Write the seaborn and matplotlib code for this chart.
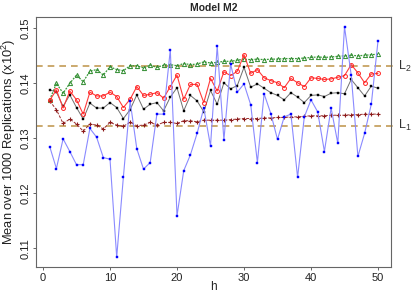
import matplotlib
matplotlib.use("Agg")
import matplotlib.pyplot as plt
import matplotlib.transforms as mtransforms
import seaborn as sns

# lag h
h = list(range(1, 51))

# mean over 1000 replications, one list per estimator
est_blue = [0.1285, 0.1245, 0.1299, 0.1276, 0.1252, 0.1252, 0.1318, 0.1302, 0.1265, 0.1262,
            0.1084, 0.1230, 0.1368, 0.1281, 0.1244, 0.1256, 0.1344, 0.1344, 0.1461, 0.1159,
            0.1241, 0.1270, 0.1309, 0.1355, 0.1286, 0.1468, 0.1297, 0.1435, 0.1384, 0.1399,
            0.1361, 0.1256, 0.1381, 0.1345, 0.1298, 0.1339, 0.1344, 0.1229, 0.1339, 0.1370,
            0.1348, 0.1276, 0.1355, 0.1291, 0.1503, 0.1415, 0.1267, 0.1309, 0.1362, 0.1477]
est_black = [0.1388, 0.1384, 0.1358, 0.1379, 0.1356, 0.1335, 0.1364, 0.1355, 0.1355, 0.1365,
             0.1356, 0.1336, 0.1352, 0.1379, 0.1353, 0.1362, 0.1365, 0.1350, 0.1375, 0.1392,
             0.1350, 0.1378, 0.1368, 0.1348, 0.1387, 0.1362, 0.1401, 0.1390, 0.1396, 0.1429,
             0.1393, 0.1399, 0.1391, 0.1383, 0.1378, 0.1370, 0.1383, 0.1375, 0.1365, 0.1378,
             0.1379, 0.1376, 0.1382, 0.1383, 0.1381, 0.1407, 0.1392, 0.1377, 0.1395, 0.1391]
est_red = [0.1369, 0.1388, 0.1355, 0.1386, 0.1370, 0.1344, 0.1384, 0.1377, 0.1377, 0.1384,
           0.1376, 0.1356, 0.1371, 0.1394, 0.1378, 0.1380, 0.1383, 0.1373, 0.1394, 0.1415,
           0.1371, 0.1398, 0.1398, 0.1365, 0.1409, 0.1386, 0.1421, 0.1414, 0.1422, 0.1452,
           0.1418, 0.1425, 0.1410, 0.1405, 0.1401, 0.1392, 0.1409, 0.1401, 0.1394, 0.1410,
           0.1409, 0.1407, 0.1408, 0.1411, 0.1414, 0.1434, 0.1419, 0.1401, 0.1417, 0.1418]
est_green = [0.1370, 0.1400, 0.1382, 0.1400, 0.1415, 0.1403, 0.1422, 0.1425, 0.1415, 0.1430,
             0.1425, 0.1423, 0.1432, 0.1432, 0.1428, 0.1433, 0.1429, 0.1433, 0.1434, 0.1432,
             0.1436, 0.1434, 0.1435, 0.1439, 0.1437, 0.1438, 0.1440, 0.1440, 0.1442, 0.1444,
             0.1443, 0.1444, 0.1443, 0.1444, 0.1444, 0.1445, 0.1445, 0.1445, 0.1446, 0.1447,
             0.1448, 0.1447, 0.1448, 0.1449, 0.1450, 0.1451, 0.1450, 0.1451, 0.1452, 0.1453]
est_darkred = [0.1368, 0.1352, 0.1327, 0.1335, 0.1326, 0.1313, 0.1326, 0.1324, 0.1317, 0.1329,
               0.1324, 0.1322, 0.1329, 0.1323, 0.1324, 0.1329, 0.1324, 0.1329, 0.1329, 0.1327,
               0.1332, 0.1332, 0.1330, 0.1333, 0.1333, 0.1333, 0.1333, 0.1334, 0.1335, 0.1336,
               0.1336, 0.1336, 0.1337, 0.1337, 0.1338, 0.1338, 0.1339, 0.1339, 0.1340, 0.1341,
               0.1341, 0.1341, 0.1342, 0.1342, 0.1342, 0.1343, 0.1343, 0.1344, 0.1344, 0.1344]

# reference levels
ref_levels = [0.14315, 0.13233]
ref_labels = ['L$_2$', 'L$_1$']

sns.set_style("ticks")
plt.rcParams['font.family'] = ['Liberation Sans', 'DejaVu Sans']
plt.rcParams['mathtext.fontset'] = 'custom'
plt.rcParams['mathtext.rm'] = 'Liberation Sans'

fig = plt.figure(figsize=(4.15, 2.97), dpi=100)
ax = fig.add_axes([36 / 415, 30 / 297, 355 / 415, 250 / 297])

# reference lines (run a little past the box, like abline with xpd)
trans = mtransforms.blended_transform_factory(ax.transAxes, ax.transData)
for val, lab in zip(ref_levels, ref_labels):
    ax.plot([0, 1.012], [val, val], transform=trans, color='#C29B55',
            ls=(0, (4, 3)), lw=1.2, clip_on=False, zorder=1)
    ax.text(1.02, val, lab, transform=trans, ha='left', va='center',
            fontsize=9, color='#333333')

series = [
    (est_green, dict(color='#3A9A3A', marker='^', ms=3.0, mfc='none', mec='#2E8B2E',
                     mew=0.7, ls=(0, (1.5, 1)), lw=0.9)),
    (est_darkred, dict(color='#9B2B2B', marker='+', ms=3.5, mec='#8B1A1A',
                       mew=0.8, ls=(0, (3, 1.5)), lw=0.7)),
    (est_black, dict(color='#6E6E6E', marker='s', ms=1.9, mfc='black', mec='black',
                     mew=0.3, ls='-', lw=0.7)),
    (est_red, dict(color='#FF3B3B', marker='o', ms=2.8, mfc='none', mec='#FF2020',
                   mew=0.7, ls='-', lw=0.8)),
    (est_blue, dict(color='#8A8AFF', marker='s', ms=1.9, mfc='#0000FF', mec='#0000FF',
                    mew=0.3, ls='-', lw=0.8)),
]
for vals, kw in series:
    sns.lineplot(x=h, y=vals, ax=ax, errorbar=None, **kw)

ax.set_xlim(-1.045, 51.94)
ax.set_ylim(0.1066, 0.15206)
ax.set_xticks([0, 10, 20, 30, 40, 50])
ax.set_yticks([0.11, 0.12, 0.13, 0.14, 0.15])
ax.set_yticklabels(['0.11', '0.12', '0.13', '0.14', '0.15'], rotation=90, va='center')

for side in ['left', 'right', 'top', 'bottom']:
    ax.spines[side].set_visible(True)
    ax.spines[side].set_color('#666666')
    ax.spines[side].set_linewidth(0.8)
ax.tick_params(axis='both', length=2.5, width=0.7, color='#666666',
               labelsize=8, labelcolor='#222222', pad=1.5)

ax.set_title('Model M2', fontsize=7.5, fontweight='bold', pad=4)
ax.set_xlabel('h', fontsize=8.5, color='#222222')
ax.set_ylabel('Mean over 1000 Replications (x10$^2$)', fontsize=9.3, color='#222222')
ax.xaxis.set_label_coords(0.5, -0.058)
ax.yaxis.set_label_coords(-0.052, 0.5)

fig.savefig('out.png', dpi=100)
